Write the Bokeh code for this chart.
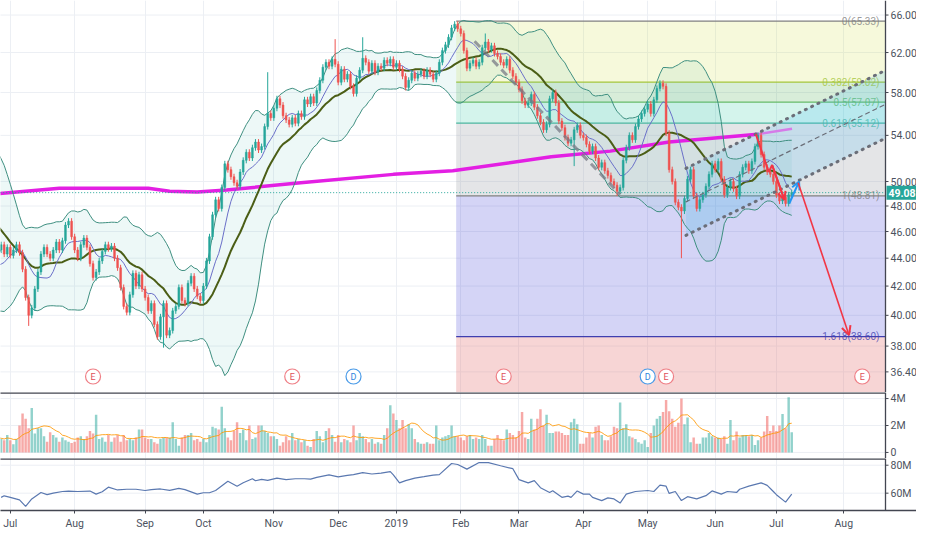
import numpy as np
import pandas as pd
from bokeh.plotting import figure
from bokeh.layouts import column
from bokeh.models import Range1d, FixedTicker, Arrow, OpenHead, Grid
from bokeh.core.properties import value
from bokeh.embed import file_html
from bokeh.resources import INLINE

# ---------------- data (daily closes, per month) ----------------
pre_close = [50.0, 50.5, 50.2, 50.8, 50.4, 50.0, 49.6, 49.0, 48.0, 47.0,
             46.0, 45.0, 44.0, 43.2, 42.5, 42.0, 42.8, 43.5, 44.0, 44.5]
close_2018_06 = [44.6, 45.0, 44.3, 44.8]
close_2018_07 = [44.2, 44.6, 45.0, 44.4, 43.2, 41.2, 40.0, 40.5, 41.8, 43.0, 44.3, 44.8, 44.3, 44.0,
                 44.6, 45.2, 44.6, 45.3, 46.5, 46.8, 45.6]
close_2018_08 = [44.6, 44.0, 45.0, 45.5, 44.8, 43.6, 42.6, 43.0, 43.8, 44.5, 45.0, 44.7, 44.9, 44.0,
                 43.3, 41.9, 40.6, 40.2, 41.4, 42.9, 42.0, 42.8, 41.8]
close_2018_09 = [41.2, 40.3, 40.8, 39.4, 38.6, 39.9, 40.8, 38.7, 39.0, 40.3, 40.6, 41.9, 41.0, 40.8,
                 42.2, 42.7, 41.8, 41.3, 41.0]
close_2018_10 = [42.0, 43.8, 45.6, 47.3, 48.5, 47.8, 49.5, 51.5, 51.0, 50.4, 49.9, 49.6, 50.8, 51.8,
                 52.5, 52.0, 52.9, 53.4, 52.7, 53.0, 54.8, 56.0, 55.6]
close_2018_11 = [56.5, 57.4, 56.8, 55.8, 55.4, 55.0, 55.6, 55.1, 56.0, 55.7, 57.3, 56.9, 57.6, 57.0,
                 58.2, 59.2, 60.5, 61.0, 60.6, 61.3, 60.8]
close_2018_12 = [59.0, 60.3, 59.3, 59.8, 58.6, 57.9, 59.4, 60.2, 61.4, 61.0, 60.1, 60.9, 60.0, 60.6,
                 60.4, 61.2, 60.9, 61.3, 60.5]
close_2019_01 = [60.9, 60.3, 59.6, 58.5, 59.2, 59.9, 59.4, 59.8, 60.1, 59.6, 60.2, 59.8, 59.3, 59.9,
                 61.0, 62.2, 62.8, 63.6, 64.6, 65.0, 64.5]
close_2019_02 = [64.0, 62.2, 60.4, 60.9, 61.2, 60.6, 61.0, 62.5, 63.1, 62.3, 62.7, 61.9, 61.6, 61.0,
                 60.7, 61.3, 60.2, 59.6, 59.0]
close_2019_03 = [58.3, 57.2, 56.8, 57.0, 57.8, 56.6, 55.8, 55.2, 54.5, 55.0, 57.4, 58.0, 57.0, 55.3,
                 54.7, 53.8, 53.3, 53.6, 54.5, 54.9, 54.0]
close_2019_04 = [53.8, 53.2, 52.6, 53.0, 52.0, 51.2, 51.6, 50.9, 50.5, 50.0, 49.7, 49.2, 49.5, 51.8,
                 52.9, 54.0, 53.6, 54.8, 55.5, 56.0, 56.4]
close_2019_05 = [56.9, 56.0, 57.3, 58.4, 58.9, 58.6, 54.2, 51.0, 50.0, 48.3, 47.9, 47.6, 48.6, 50.2,
                 51.0, 48.8, 47.8, 48.5, 48.9, 49.6, 50.6, 51.5]
close_2019_06 = [51.0, 51.7, 50.2, 48.9, 49.5, 50.0, 49.4, 48.8, 50.6, 51.2, 51.5, 50.9, 51.7, 53.0,
                 54.0, 52.3, 51.2, 50.8, 50.6, 50.0]
close_2019_07 = [48.9, 48.4, 48.7, 48.2, 48.9, 49.08]

# volume in millions, per month
vol_2018_06 = [1.1, 1.0, 0.9, 1.3]
vol_2018_07 = [0.9, 0.6, 1.0, 2.0, 2.9, 2.5, 1.8, 3.3, 1.4, 1.8, 1.8, 1.2, 0.8, 1.5, 1.3, 1.1, 0.8,
               1.1, 0.9, 0.8, 0.7]
vol_2018_08 = [0.8, 1.1, 1.2, 1.0, 1.2, 1.6, 1.4, 2.8, 1.0, 1.1, 0.8, 1.3, 0.8, 1.1, 1.3, 0.8, 1.3,
               0.9, 1.0, 0.9, 1.1, 1.7, 1.7]
vol_2018_09 = [1.1, 1.0, 1.0, 0.75, 0.65, 1.0, 1.1, 1.1, 1.1, 2.25, 1.0, 0.5, 1.1, 1.3, 1.3, 1.45,
               0.9, 1.0, 0.8]
vol_2018_10 = [1.0, 0.75, 1.3, 1.9, 1.8, 1.7, 3.4, 1.8, 1.1, 0.9, 1.6, 2.25, 1.45, 1.7, 0.9, 2.0,
               1.0, 1.1, 2.0, 2.0, 1.6, 1.45, 1.2]
vol_2018_11 = [1.2, 1.0, 0.5, 0.75, 1.2, 0.9, 1.45, 0.9, 1.0, 0.75, 0.9, 0.5, 0.4, 1.0, 1.6, 1.2,
               0.75, 1.6, 1.8, 1.3, 0.8]
vol_2018_12 = [1.3, 0.75, 1.0, 0.9, 0.75, 2.0, 0.9, 1.45, 1.2, 1.0, 0.75, 1.0, 0.65, 0.75, 0.65,
               1.3, 1.8, 3.5, 2.9]
vol_2019_01 = [2.4, 1.8, 2.4, 1.8, 2.1, 1.8, 1.0, 0.75, 0.65, 0.65, 0.75, 0.65, 0.65, 2.0, 0.9, 1.1,
               1.2, 1.3, 2.0, 1.2, 1.2]
vol_2019_02 = [1.1, 0.9, 1.2, 1.3, 1.0, 1.1, 1.0, 1.3, 1.0, 0.5, 0.5, 1.0, 1.3, 1.0, 0.9, 1.7, 1.45,
               1.3, 1.1]
vol_2019_03 = [1.6, 3.0, 1.1, 1.0, 2.5, 1.7, 2.5, 3.2, 2.0, 2.8, 1.45, 1.45, 1.55, 1.55, 1.45, 1.3,
               1.3, 2.25, 2.5, 2.1, 0.65]
vol_2019_04 = [0.65, 1.1, 1.45, 1.1, 1.9, 2.0, 1.3, 0.9, 0.9, 1.2, 1.9, 1.8, 3.7, 1.8, 2.1, 1.2,
               1.1, 1.0, 0.75, 0.65, 0.9]
vol_2019_05 = [0.4, 1.45, 2.0, 2.5, 2.7, 3.0, 3.9, 3.05, 2.5, 1.9, 2.2, 4.0, 2.1, 2.6, 0.75, 1.1,
               0.65, 0.65, 1.1, 1.1, 1.45, 1.2]
vol_2019_06 = [1.1, 1.1, 1.0, 1.2, 0.65, 2.4, 0.9, 1.55, 1.1, 1.3, 1.3, 1.2, 1.3, 0.55, 0.9, 1.1,
               1.55, 2.7, 1.6, 2.0]
vol_2019_07 = [1.6, 2.0, 2.85, 1.8, 4.1, 1.5]

# notable wicks (bar index, price)
spike_high_idx = [88, 110, 119, 149, 159]
spike_high_val = [60.0, 63.4, 63.6, 65.33, 64.0]
spike_low_idx = [10, 54, 188, 202, 223]
spike_low_val = [39.3, 37.9, 51.3, 48.81, 44.0]

# 200-day moving average (read at a few bars)
ma200_idx = [0, 20, 49, 56, 65, 74.6, 97, 129, 148.4, 180.5, 199.8, 219, 247.9]
ma200_val = [49.0, 49.45, 49.45, 49.2, 49.13, 49.3, 49.85, 50.6, 50.9, 52.1, 52.6, 53.4, 54.1]
ma200_ext_idx = [247.9, 259.1]
ma200_ext_val = [54.1, 54.6]

# OBV-like line (millions)
obv_idx = [1, 2, 4, 7, 9, 11, 14, 16, 18, 21, 23, 26, 30, 32, 34, 36, 39, 42, 45, 48, 50, 53, 56, 59,
           61, 65, 67, 69, 71, 75, 78, 80, 83, 84, 86, 88, 91, 94, 97, 100, 102, 104, 108, 111, 114,
           116, 119, 122, 125, 128, 129, 131, 133, 136, 139, 142, 144, 148, 150, 153, 157, 160, 164,
           168, 170, 173, 175, 177, 180, 181, 184, 186, 187, 189, 191, 193, 194, 197, 199, 201, 203,
           205, 208, 212, 214, 216, 218, 219, 221, 223, 225, 228, 231, 233, 236, 238, 241, 242, 245,
           249, 251, 253, 254, 257, 259]
obv_val = [57.0, 58.1, 57.0, 55.2, 50.6, 55.9, 60.5, 59.0, 60.0, 61.2, 61.5, 61.2, 61.5, 59.3, 61.0,
           64.3, 62.3, 62.8, 62.8, 61.9, 62.5, 63.0, 62.0, 63.4, 62.5, 59.3, 60.3, 60.3, 61.9, 68.5,
           65.0, 67.4, 70.3, 68.9, 69.9, 69.2, 70.8, 69.7, 70.3, 70.3, 70.1, 71.3, 73.1, 71.6, 72.7,
           73.3, 74.7, 73.7, 74.3, 75.4, 73.1, 67.4, 69.0, 70.8, 71.8, 72.9, 73.3, 81.2, 80.5, 77.2,
           81.9, 81.9, 79.6, 77.5, 69.7, 67.4, 69.0, 63.9, 60.5, 61.7, 57.0, 57.9, 57.0, 61.6, 59.3,
           59.3, 57.0, 54.7, 56.6, 55.9, 52.9, 59.3, 61.2, 61.9, 61.2, 65.7, 65.0, 59.8, 61.2, 54.7,
           57.5, 55.9, 58.2, 61.6, 59.3, 61.2, 60.5, 62.8, 65.0, 67.4, 65.6, 61.2, 58.9, 53.6, 59.3]

# Fibonacci retracement
fib_start_idx = 149.5
fib_high = 65.33
fib_low = 48.81
fib_ratios = [0, 0.382, 0.5, 0.618, 1, 1.618]

# parallel channel
channel_x = [224.5, 289.6]
channel_low = [45.71, 53.74]
channel_high = [51.11, 60.19]

# drawn trend line and arrows
trend_x = [155.5, 203.0]
trend_y = [63.18, 48.93]
red_path_x = [247.3, 251.5, 252.6, 256.6]
red_path_y = [54.1, 50.8, 51.4, 48.5]
blue_arrow = [258.2, 48.2, 261.4, 50.0]
red_arrow = [261.1, 49.9, 277.7, 38.7]

# events
earn_idx = [31, 96, 165, 218, 282]
div_idx = [116, 212]

last_price = 49.08
jul2019_sessions = 22
month_labels = ["Jul", "Aug", "Sep", "Oct", "Nov", "Dec", "2019", "Feb", "Mar", "Apr", "May",
                "Jun", "Jul", "Aug"]
price_ticks = [36.4, 38, 40, 42, 44, 46, 48, 50, 54, 58, 62, 66]
vol_ticks = [0, 2, 4]
vol_tick_labels = ["0", "2M", "4M"]
obv_ticks = [60, 80]
obv_tick_labels = ["60M", "80M"]

# ---------------- build ----------------
GREEN = "#26a69a"
RED = "#ef5350"
FONT = "Roboto"
AXC = "#434651"
LBL = "#4c525e"
GRIDC = "#eceff4"

months_close = [close_2018_06, close_2018_07, close_2018_08, close_2018_09, close_2018_10,
                close_2018_11, close_2018_12, close_2019_01, close_2019_02, close_2019_03,
                close_2019_04, close_2019_05, close_2019_06, close_2019_07]
months_vol = [vol_2018_06, vol_2018_07, vol_2018_08, vol_2018_09, vol_2018_10, vol_2018_11,
              vol_2018_12, vol_2019_01, vol_2019_02, vol_2019_03, vol_2019_04, vol_2019_05,
              vol_2019_06, vol_2019_07]

close = np.array(sum(months_close, []), float)
vol = np.array(sum(months_vol, []), float)
n = len(close)
vol = vol[:n]
x = np.arange(n)
starts = np.cumsum([0] + [len(m) for m in months_close])
tick_idx = [int(s) for s in starts[1:14]] + [int(starts[13]) + jul2019_sessions]

openp = np.concatenate([[pre_close[-1]], close[:-1]])
high = np.maximum(openp, close) * 1.005
low = np.minimum(openp, close) * 0.995
for i, v in zip(spike_high_idx, spike_high_val):
    high[i] = max(high[i], v)
for i, v in zip(spike_low_idx, spike_low_val):
    low[i] = min(low[i], v)
up = close >= openp
cols = [GREEN if u else RED for u in up]

full = pd.Series(np.concatenate([pre_close, close]))
xf = np.arange(-len(pre_close), n)
mid = full.rolling(20).mean()
sd = full.rolling(20).std(ddof=0)
bb_up = (mid + 2 * sd).values
bb_lo = (mid - 2 * sd).values
fast = full.rolling(9).mean().values
valid = ~np.isnan(bb_up)
vol_ma = pd.Series(vol).rolling(10, min_periods=1).mean().values

XS, XE = 0.8, 289.6          # visible data span
TOTAL_W = 916
AXIS_W = 31                  # right price-scale strip
DATA_W = TOTAL_W - AXIS_W
ppu = DATA_W / (XE - XS)     # pixels per bar
XR = XE + AXIS_W / ppu       # range end including the price-scale strip
YL, YH = 35.17, 67.62

def make_fig(h, y_range, log=False, bottom_axis=False):
    fig = figure(frame_width=TOTAL_W, frame_height=h, x_range=shared_x, y_range=y_range,
                 y_axis_type="log" if log else "linear", y_axis_location=None,
                 x_axis_location="below" if bottom_axis else None,
                 toolbar_location=None, output_backend="svg",
                 min_border_left=0, min_border_right=0, min_border_top=0,
                 min_border_bottom=20 if bottom_axis else 0)
    fig.background_fill_color = "white"
    fig.border_fill_color = "white"
    fig.outline_line_color = None
    fig.xgrid.grid_line_color = None
    fig.ygrid.grid_line_color = None
    fig.add_layout(Grid(dimension=0, ticker=FixedTicker(ticks=tick_idx),
                        grid_line_color=GRIDC, grid_line_width=1))
    return fig

def right_scale(fig, ticks, labels, y0, y1, hgrid=True):
    if hgrid:
        fig.segment(x0=XS - 5, x1=XE, y0=ticks, y1=ticks, line_color=GRIDC, line_width=1,
                    level="underlay")
    fig.segment(x0=[XE], x1=[XE], y0=[y0], y1=[y1], line_color=AXC, line_width=1.3)
    fig.segment(x0=XE, x1=XE + 3 / ppu, y0=ticks, y1=ticks, line_color=AXC, line_width=1)
    fig.text(x=[XE] * len(ticks), y=ticks, text=labels, x_offset=5, text_align="left",
             text_baseline="middle", text_font=value(FONT), text_font_size="10.5px",
             text_color=LBL)

shared_x = Range1d(XS, XR)

# ---- main price panel ----
p = make_fig(392, Range1d(YL, YH), log=True)

# fibonacci zones
fib_levels = [fib_high - r * (fib_high - fib_low) for r in fib_ratios]
zone_tops = fib_levels
zone_bottoms = fib_levels[1:] + [YL]
zone_colors = ["#cddc39", "#4caf50", "#26c6a0", "#9598a1", "#3d3dd6", "#e57373"]
zone_alpha = [0.18, 0.22, 0.2, 0.25, 0.22, 0.3]
p.quad(left=fib_start_idx, right=XE, top=zone_tops, bottom=zone_bottoms,
       fill_color=zone_colors, fill_alpha=zone_alpha, line_color=None)
fib_line_colors = ["#808080", "#a5c63b", "#66bb6a", "#4db6a0", "#808080", "#3f3fb0"]
p.segment(x0=fib_start_idx, x1=XE, y0=fib_levels, y1=fib_levels, line_color=fib_line_colors,
          line_width=1.3)
fib_text = [f"{r:g}({lv:.2f})" for r, lv in zip(fib_ratios, fib_levels)]
p.text(x=[XE] * len(fib_levels), y=fib_levels, text=fib_text, text_align="right",
       text_baseline="middle", x_offset=-6, text_font=value(FONT), text_font_size="10px",
       text_color=fib_line_colors, text_alpha=0.8)

# Bollinger fill
p.varea(x=xf[valid], y1=bb_lo[valid], y2=bb_up[valid], fill_color="#4db6ac", fill_alpha=0.1)

# channel fill
p.patch(x=[channel_x[0], channel_x[1], channel_x[1], channel_x[0]],
        y=[channel_low[0], channel_low[1], channel_high[1], channel_high[0]],
        fill_color="#29b6f6", fill_alpha=0.16, line_color=None)

# 200 MA
p.line(ma200_idx, ma200_val, line_color="#e31fe3", line_width=3.5)
p.line(ma200_ext_idx, ma200_ext_val, line_color="#d57be8", line_width=2.5)

# current price line
p.segment(x0=[XS - 5], x1=[XE], y0=[last_price], y1=[last_price], line_color=GREEN,
          line_dash="1 2", line_width=1)

# bands and MAs
p.line(xf[valid], bb_up[valid], line_color="#3f8f80", line_width=1)
p.line(xf[valid], bb_lo[valid], line_color="#3f8f80", line_width=1)
p.line(xf[valid], mid.values[valid], line_color="#4b5e16", line_width=2)
vf = ~np.isnan(fast)
p.line(xf[vf], fast[vf], line_color="#6a6fc8", line_width=1)

# candles
p.segment(x0=x, x1=x, y0=low, y1=high, line_color=cols, line_width=1)
p.vbar(x=x, width=0.6, top=np.maximum(openp, close), bottom=np.minimum(openp, close),
       fill_color=cols, line_color=cols, line_width=0.5)

# channel lines
ch_mid = [float(np.sqrt(a * b)) for a, b in zip(channel_low, channel_high)]
for ys, dash, w in [(channel_low, "1 6", 3), (channel_high, "1 6", 3), (ch_mid, "4 4", 1.2)]:
    p.line(channel_x, ys, line_color="#6b6e78", line_dash=dash, line_width=w, line_cap="round")

# gray dashed trend
p.line(trend_x, trend_y, line_color="#787b86", line_dash="8 5", line_width=3, line_alpha=0.75)

# arrows
p.line(red_path_x, red_path_y, line_color="#f23645", line_width=2)
p.add_layout(Arrow(end=OpenHead(size=8, line_color="#f23645", line_width=2),
                   x_start=red_path_x[-2], y_start=red_path_y[-2], x_end=red_path_x[-1],
                   y_end=red_path_y[-1], line_color="#f23645", line_width=2))
p.add_layout(Arrow(end=OpenHead(size=8, line_color="#2196f3", line_width=2),
                   x_start=blue_arrow[0], y_start=blue_arrow[1], x_end=blue_arrow[2],
                   y_end=blue_arrow[3], line_color="#2196f3", line_width=2))
p.add_layout(Arrow(end=OpenHead(size=9, line_color="#f23645", line_width=2),
                   x_start=red_arrow[0], y_start=red_arrow[1], x_end=red_arrow[2],
                   y_end=red_arrow[3], line_color="#f23645", line_width=1.6))

# events
y_evt = YL * (YH / YL) ** (16 / 392)
p.scatter(x=earn_idx, y=[y_evt] * len(earn_idx), size=15, marker="circle", fill_color="white",
          line_color="#ef7f86", line_width=1.2)
p.text(x=earn_idx, y=[y_evt] * len(earn_idx), text=["E"] * len(earn_idx), text_align="center",
       text_baseline="middle", text_font=value(FONT), text_font_size="9px", text_color="#e0505a")
p.scatter(x=div_idx, y=[y_evt] * len(div_idx), size=15, marker="circle", fill_color="white",
          line_color="#4a9be8", line_width=1.2)
p.text(x=div_idx, y=[y_evt] * len(div_idx), text=["D"] * len(div_idx), text_align="center",
       text_baseline="middle", text_font=value(FONT), text_font_size="9px", text_color="#2f86dd")

# right price scale
right_scale(p, price_ticks, [f"{t:.2f}" for t in price_ticks], YL, YH)

# last price tag on the scale
p.rect(x=[XE + (AXIS_W / 2 + 0.5) / ppu], y=[last_price], width=AXIS_W - 1, height=14,
       width_units="screen", height_units="screen", fill_color=GREEN, line_color=None)
p.text(x=[XE], y=[last_price], text=[f"{last_price:.2f}"], x_offset=3, text_align="left",
       text_baseline="middle", text_font=value(FONT), text_font_size="10.5px",
       text_font_style="bold", text_color="white")

# ---- volume panel ----
VOL_LO, VOL_HI = -0.45, 4.45
pv = make_fig(66, Range1d(VOL_LO, VOL_HI))
right_scale(pv, vol_ticks, vol_tick_labels, VOL_LO, VOL_HI)
pv.vbar(x=x, width=0.8, top=vol, bottom=0, fill_color=cols, line_color=None, fill_alpha=0.5)
pv.line(x, vol_ma, line_color="#ff9800", line_width=1, line_alpha=0.85)
pv.segment(x0=[XS - 5], x1=[XE], y0=[VOL_HI], y1=[VOL_HI], line_color=AXC, line_width=2.5)

# ---- OBV panel ----
OBV_LO, OBV_HI = 47.6, 84.8
po = make_fig(52, Range1d(OBV_LO, OBV_HI), bottom_axis=True)
right_scale(po, obv_ticks, obv_tick_labels, OBV_LO, OBV_HI)
po.line(obv_idx, obv_val, line_color="#5a78b0", line_width=1.2)
po.segment(x0=[XS - 5], x1=[XE], y0=[OBV_HI], y1=[OBV_HI], line_color=AXC, line_width=2.5)
xa = po.xaxis[0]
xa.ticker = FixedTicker(ticks=tick_idx)
xa.major_label_overrides = {t: lab for t, lab in zip(tick_idx, month_labels)}
xa.axis_line_color = AXC
xa.axis_line_width = 1.3
xa.major_tick_line_color = AXC
xa.major_tick_out = 3
xa.major_tick_in = 0
xa.minor_tick_line_color = None
xa.major_label_standoff = 3
xa.major_label_text_font = FONT
xa.major_label_text_font_size = "10.5px"
xa.major_label_text_color = LBL

layout = column(p, pv, po, spacing=0)
open("out.html", "w").write(file_html(layout, INLINE))
